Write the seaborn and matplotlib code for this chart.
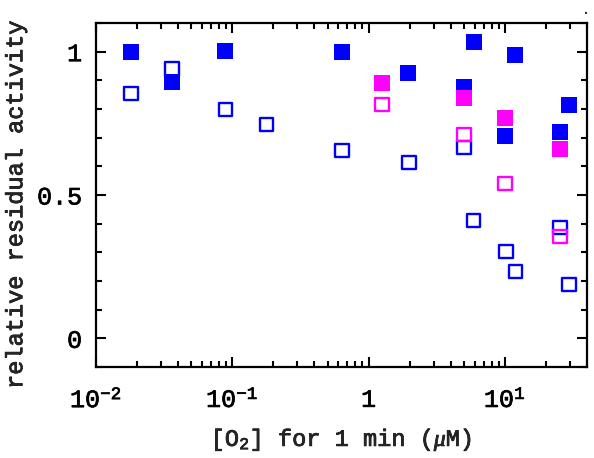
import numpy as np
import pandas as pd
import matplotlib
matplotlib.use("Agg")
import matplotlib.pyplot as plt
import matplotlib.patheffects as pe
import seaborn as sns
from matplotlib.ticker import LogLocator, MultipleLocator, FixedLocator, FixedFormatter

# blue filled / open, magenta filled / open  (x = [O2] in uM, y = relative activity)
blue_fill_x = [0.018, 0.036, 0.089, 0.64, 1.94, 5.0, 5.9, 10.0, 11.9, 25.3, 29.5]
blue_fill_y = [1.0, 0.895, 1.003, 1.0, 0.927, 0.878, 1.035, 0.707, 0.99, 0.718, 0.815]
blue_open_x = [0.018, 0.036, 0.089, 0.178, 0.64, 1.97, 5.0, 5.9, 10.2, 12.0, 25.3, 29.6]
blue_open_y = [0.854, 0.94, 0.798, 0.746, 0.655, 0.613, 0.665, 0.411, 0.303, 0.233, 0.387, 0.188]
mag_fill_x = [1.25, 5.0, 10.0, 25.3]
mag_fill_y = [0.889, 0.84, 0.77, 0.662]
mag_open_x = [1.25, 5.0, 10.0, 25.3]
mag_open_y = [0.815, 0.711, 0.54, 0.355]

xtick_vals = [0.01, 0.1, 1, 10]
xtick_labels = ["$10^{-2}$", "$10^{-1}$", "1", "$10^{1}$"]
ytick_vals = [0, 0.5, 1]
ytick_labels = ["0", "0.5", "1"]

sns.set_style("ticks")
plt.rcParams['font.family'] = ['Liberation Mono', 'DejaVu Sans Mono']
plt.rcParams['mathtext.fontset'] = 'custom'
plt.rcParams['mathtext.rm'] = 'Liberation Mono'
plt.rcParams['mathtext.it'] = 'Liberation Serif:italic'

# thicken the thin courier-like strokes a bit
thick = [pe.withStroke(linewidth=0.5, foreground='black')]

fig = plt.figure(figsize=(5.94, 4.58), dpi=100)
ax = fig.add_axes([0.1616, 0.1987, 0.8266, 0.7511])

sns.scatterplot(x=blue_fill_x, y=blue_fill_y, marker='s', s=120, color='#0000ff',
                linewidth=0, ax=ax, zorder=3)
sns.scatterplot(x=blue_open_x, y=blue_open_y, marker='s', s=95, facecolor='none',
                edgecolor='#0000ff', linewidth=1.7, ax=ax, zorder=3)
sns.scatterplot(x=mag_fill_x, y=mag_fill_y, marker='s', s=120, color='#ff00ff',
                linewidth=0, ax=ax, zorder=3)
sns.scatterplot(x=mag_open_x, y=mag_open_y, marker='s', s=95, facecolor='none',
                edgecolor='#ff00ff', linewidth=1.7, ax=ax, zorder=3)

ax.set_xscale('log')
ax.set_xlim(0.01, 40)
ax.set_ylim(-0.1, 1.1)

ax.xaxis.set_major_locator(FixedLocator(xtick_vals))
ax.xaxis.set_major_formatter(FixedFormatter(xtick_labels))
ax.xaxis.set_minor_locator(LogLocator(base=10, subs=np.arange(2, 10)))
ax.xaxis.set_minor_formatter(plt.NullFormatter())
ax.yaxis.set_major_locator(FixedLocator(ytick_vals))
ax.yaxis.set_major_formatter(FixedFormatter(ytick_labels))
ax.yaxis.set_minor_locator(MultipleLocator(0.1))

ax.tick_params(which='both', direction='in', top=True, right=True, width=1.5, labelsize=18, colors='black')
ax.tick_params(which='major', length=7)
ax.tick_params(which='minor', length=4)
ax.tick_params(axis='x', which='major', pad=15)
ax.tick_params(axis='y', which='major', pad=10)
for sp in ax.spines.values():
    sp.set_linewidth(1.6)
    sp.set_color('black')

ax.set_xlabel("[O$_2$] for 1 min ($\\mu$M)", fontsize=17, labelpad=10)
ax.set_ylabel("relative residual activity", fontsize=17)
ax.yaxis.set_label_coords(-0.14, 0.47)

for t in ax.get_xticklabels() + ax.get_yticklabels() + [ax.xaxis.label, ax.yaxis.label]:
    t.set_path_effects(thick)

fig.text(0.995, 0.97, ".", fontsize=12, ha='right')

fig.savefig("out.png", dpi=100)
